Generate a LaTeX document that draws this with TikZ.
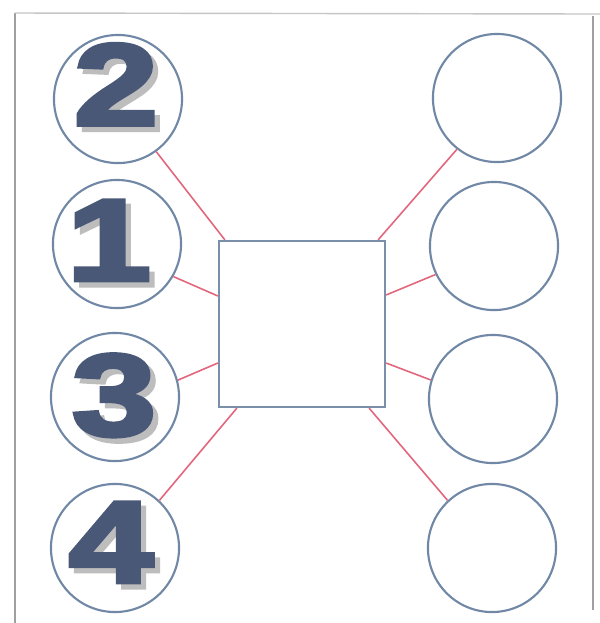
\documentclass[tikz,border=0pt]{standalone}
\usepackage{fontspec}
\newfontfamily\numfont{Liberation Sans}[BoldFeatures={FakeBold=3.5}]
\usetikzlibrary{calc}
\definecolor{numblue}{HTML}{4A5878}
\definecolor{numshadow}{HTML}{BDBDBD}
\definecolor{ringblue}{HTML}{7088A6}
\definecolor{boxblue}{HTML}{7A90AA}
\definecolor{linkred}{HTML}{E2667C}
\definecolor{framegray}{HTML}{A0A0A0}
\newcommand\shadowdigit[1]{\makebox[0pt][l]{\hspace{1.5pt}\raisebox{-1.5pt}{\textcolor{numshadow}{\scalebox{1.3}[1]{#1}}}}\scalebox{1.3}[1]{#1}}
\begin{document}
\begin{tikzpicture}[x=0.01cm,y=-0.01cm,
  ring/.style={circle,draw=ringblue,line width=0.6pt,minimum size=1.28cm,inner sep=0pt},
  centrebox/.style={rectangle,draw=boxblue,line width=0.6pt,minimum width=1.66cm,minimum height=1.66cm,inner sep=0pt},
  link/.style={draw=linkred,line width=0.45pt},
  digit/.style={inner sep=0pt,text=numblue,font=\numfont\bfseries\fontsize{33}{33}\selectfont},
  frameline/.style={draw=framegray,line width=0.4pt}]
\useasboundingbox[fill=white] (0,0) rectangle (600,623);
% frame
\coordinate (ftl) at (15,13);
\coordinate (fbl) at (15,623);
\coordinate (ftr) at (600,14);
\coordinate (frt) at (593,16);
\coordinate (frb) at (593,610);
\draw[frameline] (fbl) -- (ftl);
\draw[frameline,draw=framegray!60] (ftl) -- (ftr);
\draw[frameline] (frt) -- (frb);
% centre square
\node[centrebox] (sq) at (302,324) {};
% left circles
\node[ring] (c2) at (118,99) {};
\node[ring] (c1) at (117,244) {};
\node[ring] (c3) at (115,397) {};
\node[ring] (c4) at (115,548) {};
% right circles
\node[ring] (r1) at (497,98) {};
\node[ring] (r2) at (494,246) {};
\node[ring] (r3) at (493,399) {};
\node[ring] (r4) at (492,548) {};
% digits with shadows
\node[digit] (n2) at (116,87) {\shadowdigit{2}};
\node[digit] (n1) at (109,243) {\shadowdigit{1}};
\node[digit] (n3) at (114,398) {\shadowdigit{3}};
\node[digit] (n4) at (111,545) {\shadowdigit{4}};
% connectors
\draw[link] (c2.-54) -- ($(sq.north west)+(7,0)$);
\draw[link] (c1.-30) -- ($(sq.west)+(0,-28)$);
\draw[link] (c3.15) -- ($(sq.west)+(0,39)$);
\draw[link] (c4.47) -- ($(sq.south west)+(19,0)$);
\draw[link] (r1.-128) -- ($(sq.north east)+(-8,0)$);
\draw[link] (r2.-154) -- ($(sq.east)+(0,-29)$);
\draw[link] (r3.163) -- ($(sq.east)+(0,39)$);
\draw[link] (r4.133) -- ($(sq.south east)+(-17,0)$);
\end{tikzpicture}
\end{document}
